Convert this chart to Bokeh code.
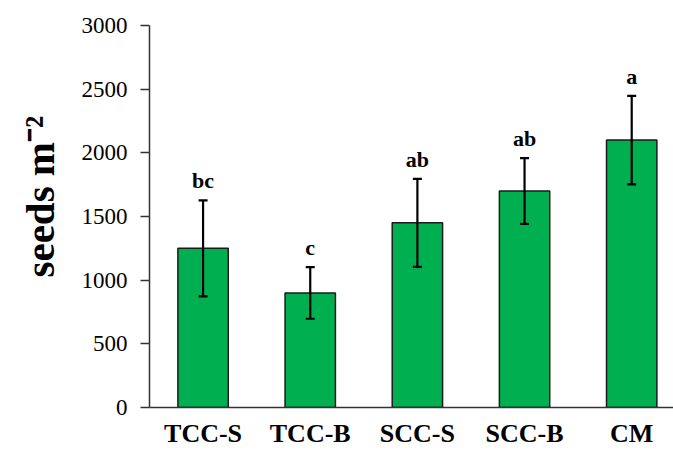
from bokeh.plotting import figure
from bokeh.models import ColumnDataSource, FixedTicker, Whisker, TeeHead, LabelSet, Range1d, Title
from bokeh.embed import file_html
from bokeh.resources import INLINE

categories = ["TCC-S", "TCC-B", "SCC-S", "SCC-B", "CM"]
means = [1250, 900, 1450, 1700, 2100]
errors = [377, 203, 345, 258, 347]
letters = ["bc", "c", "ab", "ab", "a"]
y_ticks = [0, 500, 1000, 1500, 2000, 2500, 3000]
y_title = "seeds m\u207b\u00b2"

xs = list(range(len(categories)))
src = ColumnDataSource(dict(
    x=xs, top=means,
    upper=[m + e for m, e in zip(means, errors)],
    lower=[m - e for m, e in zip(means, errors)],
    letter=letters,
))

FONT = "Liberation Serif"

p = figure(width=673, height=450, output_backend="svg", toolbar_location=None,
           x_range=Range1d(-0.5, 4.39), y_range=Range1d(0, 3000),
           min_border_left=147, min_border_top=25, min_border_right=0, min_border_bottom=43)
p.outline_line_color = None
p.xgrid.visible = False
p.ygrid.visible = False
p.background_fill_color = "white"

p.vbar(x="x", top="top", width=0.47, bottom=0, source=src,
       fill_color="#00B050", line_color="#1a1a1a", line_width=1.5)

w = Whisker(base="x", upper="upper", lower="lower", source=src,
            line_color="black", line_width=2.2, level="overlay",
            upper_head=TeeHead(size=9, line_width=2.2, line_color="black"),
            lower_head=TeeHead(size=9, line_width=2.2, line_color="black"))
p.add_layout(w)

labels = LabelSet(x="x", y="upper", text="letter", source=src,
                  text_align="center", text_baseline="alphabetic", y_offset=12,
                  text_font=FONT, text_font_style="bold", text_font_size="22px",
                  text_color="black")
p.add_layout(labels)

# y axis
p.yaxis.ticker = FixedTicker(ticks=y_ticks)
p.yaxis.minor_tick_line_color = None
p.yaxis.major_tick_out = 9
p.yaxis.major_tick_in = 0
p.yaxis.major_tick_line_color = "#333333"
p.yaxis.major_tick_line_width = 1.5
p.yaxis.axis_line_color = "#333333"
p.yaxis.axis_line_width = 1.5
p.yaxis.major_label_text_font = FONT
p.yaxis.major_label_text_font_size = "23px"
p.yaxis.major_label_text_color = "black"
p.yaxis.major_label_standoff = 13

# y axis title as a left-side title (start anchored, shifted up by offset)
p.add_layout(Title(text=y_title, align="left", offset=130, standoff=30,
                   vertical_align="middle",
                   text_font=FONT, text_font_style="bold", text_font_size="41px",
                   text_color="black"), "left")

# x axis
p.xaxis.ticker = FixedTicker(ticks=xs)
p.xaxis.major_label_overrides = {i: c for i, c in zip(xs, categories)}
p.xaxis.minor_tick_line_color = None
p.xaxis.major_tick_line_color = None
p.xaxis.major_tick_out = 0
p.xaxis.major_tick_in = 0
p.xaxis.axis_line_color = "#333333"
p.xaxis.axis_line_width = 1.5
p.xaxis.major_label_text_font = FONT
p.xaxis.major_label_text_font_style = "bold"
p.xaxis.major_label_text_font_size = "26px"
p.xaxis.major_label_text_color = "black"
p.xaxis.major_label_standoff = 11

open("out.html", "w").write(file_html(p, INLINE))
